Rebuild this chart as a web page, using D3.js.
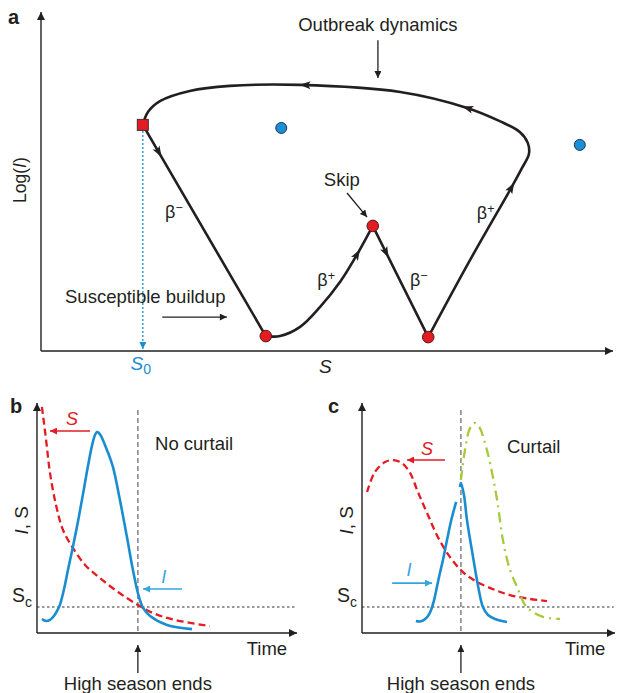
<!DOCTYPE html>
<html>
<head>
<meta charset="utf-8">
<script src="https://cdn.jsdelivr.net/npm/d3@7"></script>
<style>
  body { margin: 0; background: #fff; }
  text { font-family: "Liberation Sans", Arial, Helvetica, sans-serif; fill: #231f20; }
</style>
</head>
<body>
<svg id="chart" width="621" height="693"></svg>
<script>
// ---- panel a : trajectory in the (S, log I) plane, schematic units 0-100 ----
var squarePt = [17.8, 66.7];
var troughPts = [[39.3, 4.4], [67.7, 4.1]];
var skipPt = [58.0, 36.9];
var equilPts = [[42.0, 65.8], [94.2, 60.8]];
var riseCurve = [[39.3, 4.4], [41.8, 4.4], [45.3, 7.1], [48.8, 13.0], [52.3, 20.4], [55.4, 28.9], [58.0, 36.9]];
var outbreakLoop = [[67.7, 4.1], [74.9, 26.5], [82.5, 49.0], [84.1, 54.0], [85.3, 58.1], [85.1, 61.4],
  [83.7, 64.6], [80.2, 67.8], [74.5, 71.7], [62.8, 76.4], [45.3, 78.5], [33.0, 78.2], [26.0, 76.7],
  [20.8, 73.7], [18.7, 70.5], [17.8, 66.7]];
var betaLabels = [
  { t: "β", sup: "−", at: [21.7, 39.2] },
  { t: "β", sup: "+", at: [48.3, 19.2] },
  { t: "β", sup: "−", at: [64.5, 19.2] },
  { t: "β", sup: "+", at: [76.2, 38.9] }
];

// ---- panel b : no curtail (time, level) ----
var bSusceptible = [[1.9, 98.3], [3.5, 83.9], [5.0, 69.6], [7.3, 55.7], [10.0, 44.8], [13.8, 37.0],
  [18.5, 29.6], [24.2, 23.9], [31.2, 17.8], [38.8, 12.2], [45.4, 8.3], [53.1, 5.7], [66.5, 3.0]];
var bInfected = [[1.9, 6.1], [3.5, 5.2], [5.0, 5.7], [6.5, 7.4], [7.7, 9.6], [8.8, 12.2], [10.4, 19.1],
  [11.9, 27.4], [13.8, 37.4], [15.8, 48.7], [17.7, 60.4], [19.6, 72.6], [21.2, 81.7], [22.3, 86.1],
  [23.1, 87.4], [23.8, 87.0], [24.6, 85.7], [26.9, 79.6], [29.2, 72.2], [31.9, 57.8], [34.6, 41.7],
  [36.9, 27.4], [38.8, 17.4], [40.8, 10.9], [43.5, 7.4], [50.0, 3.5], [59.6, 1.7]];

// ---- panel c : curtail ----
var cSusceptible = [[2.0, 61.3], [5.1, 70.0], [9.1, 74.3], [12.3, 75.2], [15.8, 73.9], [19.0, 69.6],
  [22.1, 61.3], [25.7, 52.2], [30.0, 41.7], [34.8, 33.0], [39.9, 26.5], [45.5, 22.2], [52.6, 18.7],
  [58.5, 16.5], [66.4, 14.8], [73.1, 13.9]];
var cInfectedBefore = [[21.3, 5.2], [22.9, 5.0], [24.5, 5.7], [26.1, 7.4], [27.3, 10.0], [28.5, 14.3],
  [29.6, 20.0], [30.8, 26.1], [32.0, 31.7], [33.6, 40.4], [35.2, 48.7], [37.2, 57.0]];
var cInfectedAfter = [[38.7, 63.5], [39.1, 65.2], [40.3, 60.0], [41.5, 49.1], [43.9, 33.0], [45.8, 20.9],
  [47.8, 11.3], [49.8, 7.8], [52.6, 6.1], [57.3, 4.8]];
var cInfectedUncurtailed = [[39.1, 66.5], [40.7, 79.6], [42.7, 89.1], [44.7, 91.3], [46.6, 89.1], [48.6, 82.6],
  [50.6, 73.9], [53.4, 57.8], [55.7, 40.4], [58.5, 27.4], [61.3, 20.0], [64.4, 12.2], [66.4, 10.0],
  [71.5, 7.0], [78.3, 6.1]];

var scLevel = 11.3;
var seasonEndB = 38.8, seasonEndC = 39.1;

var ink = "#231f20", red = "#e31b23", blue = "#1a8dd0", lightBlue = "#35a5e0", green = "#a6ca3c";
var fs = 18.5;

var svg = d3.select("#chart");
var defs = svg.append("defs");

function marker(id, color, len, wid) {
  defs.append("marker").attr("id", id)
    .attr("markerUnits", "userSpaceOnUse")
    .attr("viewBox", "0 0 10 10").attr("refX", 10).attr("refY", 5)
    .attr("markerWidth", len).attr("markerHeight", wid)
    .attr("orient", "auto")
    .append("path").attr("d", "M0,0L10,5L0,10z").attr("fill", color);
}
marker("axisHead", ink, 11, 8);
marker("blackHead", ink, 10, 7);
marker("redHead", red, 10, 7);
marker("blueHead", lightBlue, 10, 7);
marker("s0Head", blue, 8, 7);

// arrowhead in the middle of a path, at a fraction of its length
function midArrow(g, node, frac) {
  var L = node.getTotalLength();
  var p = node.getPointAtLength(frac * L);
  var q = node.getPointAtLength(frac * L + 1);
  var ang = Math.atan2(q.y - p.y, q.x - p.x) * 180 / Math.PI;
  g.append("path")
    .attr("d", "M5.5,0L-5.5,-4L-3,0L-5.5,4z")
    .attr("fill", ink)
    .attr("transform", "translate(" + p.x + "," + p.y + ") rotate(" + ang + ")");
}

function arrowLine(g, x1, y1, x2, y2, color, head, w) {
  g.append("line")
    .attr("x1", x1).attr("y1", y1).attr("x2", x2).attr("y2", y2)
    .attr("stroke", color).attr("stroke-width", w || 1.3)
    .attr("marker-end", "url(#" + head + ")");
}

function panelLetter(ch, x, y) {
  svg.append("text").attr("x", x).attr("y", y)
    .attr("font-size", 20).attr("font-weight", "bold").text(ch);
}

// ================= panel a =================
var xA = d3.scaleLinear().domain([0, 100]).range([41, 613]);
var yA = d3.scaleLinear().domain([0, 100]).range([351, 12]);
var ga = svg.append("g");

panelLetter("a", 8, 24);

arrowLine(ga, xA(0), yA(0), xA(0), yA(100), ink, "axisHead", 1.4);
arrowLine(ga, xA(0), yA(0), xA(100), yA(0), ink, "axisHead", 1.4);

var logLab = ga.append("text")
  .attr("transform", "translate(26," + yA(50.4) + ") rotate(-90)")
  .attr("text-anchor", "middle").attr("font-size", 17.5);
logLab.append("tspan").text("Log(");
logLab.append("tspan").attr("font-style", "italic").text("I");
logLab.append("tspan").text(")");

ga.append("text").attr("x", xA(49.7)).attr("y", yA(-6.5))
  .attr("text-anchor", "middle").attr("font-size", 19).attr("font-style", "italic").text("S");

// S0 marker line
ga.append("line")
  .attr("x1", xA(squarePt[0])).attr("y1", yA(squarePt[1]) + 6)
  .attr("x2", xA(squarePt[0])).attr("y2", yA(0) - 2)
  .attr("stroke", blue).attr("stroke-width", 1.3).attr("stroke-dasharray", "2,2")
  .attr("marker-end", "url(#s0Head)");
var s0 = ga.append("text").attr("x", xA(squarePt[0]) - 2).attr("y", yA(-5.6))
  .attr("text-anchor", "middle").attr("font-size", 19).style("fill", blue);
s0.append("tspan").attr("font-style", "italic").text("S");
s0.append("tspan").attr("font-size", 14).attr("dy", 4).text("0");

var lineA = d3.line().x(function(d) { return xA(d[0]); }).y(function(d) { return yA(d[1]); });
var curveA = d3.line().x(function(d) { return xA(d[0]); }).y(function(d) { return yA(d[1]); })
  .curve(d3.curveCatmullRom.alpha(0.5));

function trajectory(d, gen) {
  return ga.append("path").attr("d", gen(d))
    .attr("fill", "none").attr("stroke", ink).attr("stroke-width", 2.6)
    .attr("stroke-linecap", "round").attr("stroke-linejoin", "round");
}
var seg1 = trajectory([squarePt, troughPts[0]], lineA);
var seg2 = trajectory(riseCurve, curveA);
var seg3 = trajectory([skipPt, troughPts[1]], lineA);
var seg4 = trajectory(outbreakLoop, curveA);

midArrow(ga, seg1.node(), 0.13);
midArrow(ga, seg2.node(), 0.8);
midArrow(ga, seg3.node(), 0.24);
[0.27, 0.46, 0.72].forEach(function(f) { midArrow(ga, seg4.node(), f); });

// equilibrium dots
ga.selectAll("circle.eq").data(equilPts).enter().append("circle")
  .attr("cx", function(d) { return xA(d[0]); }).attr("cy", function(d) { return yA(d[1]); })
  .attr("r", 5.5).attr("fill", "#1b8fd6").attr("stroke", "#1d3550").attr("stroke-width", 1);

// troughs and skip
ga.selectAll("circle.red").data(troughPts.concat([skipPt])).enter().append("circle")
  .attr("cx", function(d) { return xA(d[0]); }).attr("cy", function(d) { return yA(d[1]); })
  .attr("r", 5.8).attr("fill", red).attr("stroke", "#5b1a1a").attr("stroke-width", 1);

ga.append("rect")
  .attr("x", xA(squarePt[0]) - 5.5).attr("y", yA(squarePt[1]) - 5.5)
  .attr("width", 11).attr("height", 11)
  .attr("fill", red).attr("stroke", "#4a2a2a").attr("stroke-width", 1);

// annotations
ga.append("text").attr("x", xA(58.9)).attr("y", yA(94.4))
  .attr("text-anchor", "middle").attr("font-size", fs).text("Outbreak dynamics");
arrowLine(ga, xA(58.9), yA(91.7), xA(58.9), yA(80.5), ink, "blackHead");

ga.append("text").attr("x", xA(52.6)).attr("y", yA(48.7))
  .attr("text-anchor", "middle").attr("font-size", fs).text("Skip");
arrowLine(ga, xA(53.5), yA(46.6), xA(57.0), yA(39.5), ink, "blackHead");

ga.append("text").attr("x", xA(4.2)).attr("y", yA(14.2))
  .attr("font-size", fs).text("Susceptible buildup");
arrowLine(ga, xA(21.2), yA(10.0), xA(32.5), yA(10.0), ink, "blackHead");

betaLabels.forEach(function(b) {
  var t = ga.append("text").attr("x", xA(b.at[0])).attr("y", yA(b.at[1])).attr("font-size", 18);
  t.append("tspan").text(b.t);
  t.append("tspan").attr("font-size", 12.5).attr("dy", -6).text(b.sup);
});

// ================= panels b and c =================
function timePanel(opts) {
  var x = d3.scaleLinear().domain([0, 100]).range(opts.xr);
  var y = d3.scaleLinear().domain([0, 100]).range([633, 403]);
  var g = svg.append("g");
  var line = d3.line().x(function(d) { return x(d[0]); }).y(function(d) { return y(d[1]); })
    .curve(d3.curveCatmullRom.alpha(0.5));

  panelLetter(opts.letter, opts.letterX, 413);

  arrowLine(g, x(0), y(0), x(0), y(100), ink, "axisHead", 1.4);
  arrowLine(g, x(0), y(0), x(100), y(0), ink, "axisHead", 1.4);

  g.append("text").attr("x", x(96.2)).attr("y", y(-9.6))
    .attr("text-anchor", "end").attr("font-size", fs).text("Time");

  var ylab = g.append("text")
    .attr("transform", "translate(" + (x(0) - 9) + "," + y(49) + ") rotate(-90)")
    .attr("text-anchor", "middle").attr("font-size", 19);
  ylab.append("tspan").attr("font-style", "italic").text("I");
  ylab.append("tspan").text(", S");

  var sc = g.append("text").attr("x", x(0) - 25).attr("y", y(scLevel) - 5).attr("font-size", 19.5);
  sc.append("tspan").text("S");
  sc.append("tspan").attr("font-size", 14).attr("dy", 5).text("c");

  // threshold and season end
  g.append("line").attr("x1", x(0)).attr("x2", x(99.5)).attr("y1", y(scLevel)).attr("y2", y(scLevel))
    .attr("stroke", "#333").attr("stroke-width", 1).attr("stroke-dasharray", "2.5,2.5");
  g.append("line").attr("x1", x(opts.seasonEnd)).attr("x2", x(opts.seasonEnd))
    .attr("y1", y(97)).attr("y2", y(0))
    .attr("stroke", "#7a7a7a").attr("stroke-width", 1.4).attr("stroke-dasharray", "5,3");

  arrowLine(g, x(opts.seasonEnd), 673, x(opts.seasonEnd), 645, ink, "blackHead");
  g.append("text").attr("x", x(opts.seasonEnd)).attr("y", 690)
    .attr("text-anchor", "middle").attr("font-size", fs).text("High season ends");

  g.append("text").attr("x", x(opts.tag[1])).attr("y", y(opts.tag[2]))
    .attr("font-size", fs).text(opts.tag[0]);

  // series
  opts.series.forEach(function(s) {
    g.append("path").attr("d", line(s.data))
      .attr("fill", "none").attr("stroke", s.color).attr("stroke-width", s.w)
      .attr("stroke-dasharray", s.dash || null).attr("stroke-linecap", "butt");
  });

  // S and I pointers
  arrowLine(g, x(opts.sArrow[0]), y(opts.sArrow[2]), x(opts.sArrow[1]), y(opts.sArrow[2]), red, "redHead", 1.6);
  g.append("text").attr("x", x(opts.sText[0])).attr("y", y(opts.sText[1]))
    .attr("text-anchor", "middle").attr("font-size", 18).attr("font-style", "italic")
    .style("fill", red).text("S");
  arrowLine(g, x(opts.iArrow[0]), y(opts.iArrow[2]), x(opts.iArrow[1]), y(opts.iArrow[2]), lightBlue, "blueHead", 1.6);
  g.append("text").attr("x", x(opts.iText[0])).attr("y", y(opts.iText[1]))
    .attr("text-anchor", "middle").attr("font-size", 18).attr("font-style", "italic")
    .style("fill", lightBlue).text("I");
}

timePanel({
  letter: "b", letterX: 10, xr: [37, 297], seasonEnd: seasonEndB,
  tag: ["No curtail", 45.4, 79.6],
  series: [
    { data: bSusceptible, color: red, w: 2.3, dash: "7,4" },
    { data: bInfected, color: blue, w: 2.6 }
  ],
  sArrow: [20.4, 5.0, 87.8], sText: [13.5, 90.4],
  iArrow: [55.8, 40.8, 19.1], iText: [48.8, 21.7]
});

timePanel({
  letter: "c", letterX: 328, xr: [362, 615], seasonEnd: seasonEndC,
  tag: ["Curtail", 57.3, 78.3],
  series: [
    { data: cSusceptible, color: red, w: 2.3, dash: "7,4" },
    { data: cInfectedUncurtailed, color: green, w: 2.3, dash: "10,5,2,5" },
    { data: cInfectedBefore, color: blue, w: 2.6 },
    { data: cInfectedAfter, color: blue, w: 2.6 }
  ],
  sArrow: [32.8, 17.8, 75.2], sText: [25.7, 77.4],
  iArrow: [11.9, 27.7, 21.7], iText: [18.6, 24.8]
});
</script>
</body>
</html>
